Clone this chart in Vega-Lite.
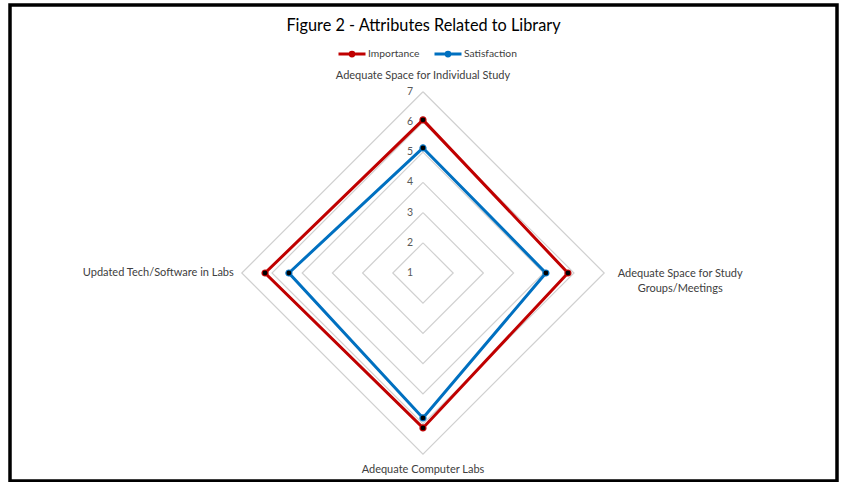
{
  "$schema": "https://vega.github.io/schema/vega-lite/v6.json",
  "width": 841,
  "height": 482,
  "autosize": {"type": "fit", "contains": "padding"},
  "padding": {"left": 10, "top": 5, "right": 4, "bottom": 1},
  "background": "white",
  "config": {
    "view": {"stroke": "black", "strokeWidth": 3.5},
    "font": "Lato",
    "text": {"font": "Lato", "color": "#404040"}
  },
  "title": {
    "text": "Figure 2 - Attributes Related to Library",
    "anchor": "middle",
    "frame": "group",
    "orient": "top",
    "offset": -42,
    "baseline": "alphabetic",
    "font": "Lato",
    "fontSize": 16.3,
    "fontWeight": "normal",
    "color": "#000000"
  },
  "datasets": {
    "series": [
      {"series": "Importance", "k": 1, "value": 6.07},
      {"series": "Importance", "k": 2, "value": 5.8},
      {"series": "Importance", "k": 3, "value": 6.13},
      {"series": "Importance", "k": 4, "value": 6.23},
      {"series": "Importance", "k": 5, "value": 6.07},
      {"series": "Satisfaction", "k": 1, "value": 5.14},
      {"series": "Satisfaction", "k": 2, "value": 5.07},
      {"series": "Satisfaction", "k": 3, "value": 5.8},
      {"series": "Satisfaction", "k": 4, "value": 5.44},
      {"series": "Satisfaction", "k": 5, "value": 5.14}
    ],
    "grid": [
      {"value": 2, "k": 1}, {"value": 2, "k": 2}, {"value": 2, "k": 3}, {"value": 2, "k": 4}, {"value": 2, "k": 5},
      {"value": 3, "k": 1}, {"value": 3, "k": 2}, {"value": 3, "k": 3}, {"value": 3, "k": 4}, {"value": 3, "k": 5},
      {"value": 4, "k": 1}, {"value": 4, "k": 2}, {"value": 4, "k": 3}, {"value": 4, "k": 4}, {"value": 4, "k": 5},
      {"value": 5, "k": 1}, {"value": 5, "k": 2}, {"value": 5, "k": 3}, {"value": 5, "k": 4}, {"value": 5, "k": 5},
      {"value": 6, "k": 1}, {"value": 6, "k": 2}, {"value": 6, "k": 3}, {"value": 6, "k": 4}, {"value": 6, "k": 5},
      {"value": 7, "k": 1}, {"value": 7, "k": 2}, {"value": 7, "k": 3}, {"value": 7, "k": 4}, {"value": 7, "k": 5}
    ],
    "ticks": [
      {"value": 1, "k": 1}, {"value": 2, "k": 1}, {"value": 3, "k": 1}, {"value": 4, "k": 1},
      {"value": 5, "k": 1}, {"value": 6, "k": 1}, {"value": 7, "k": 1}
    ],
    "cats": [
      {"k": 1, "value": 7, "label": "Adequate Space for Individual Study"},
      {"k": 2, "value": 7, "label": "Adequate Space for Study\nGroups/Meetings"},
      {"k": 3, "value": 7, "label": "Adequate Computer Labs"},
      {"k": 4, "value": 7, "label": "Updated Tech/Software in Labs"}
    ]
  },
  "layer": [
    {
      "data": {"name": "grid"},
      "transform": [
        {"calculate": "datum.value - 1", "as": "r"},
        {"calculate": "datum.k == 2 ? datum.r : (datum.k == 4 ? -datum.r : 0)", "as": "px"},
        {"calculate": "(datum.k == 1 || datum.k == 5) ? datum.r : (datum.k == 3 ? -datum.r : 0)", "as": "py"}
      ],
      "mark": {"type": "line", "color": "#D0D0D0", "strokeWidth": 1.2},
      "encoding": {
        "x": {"field": "px", "type": "quantitative", "axis": null, "scale": {"domain": [-13.675, 13.709], "nice": false, "zero": false}},
        "y": {"field": "py", "type": "quantitative", "axis": null, "scale": {"domain": [-6.887, 8.874], "nice": false, "zero": false}},
        "detail": {"field": "value", "type": "nominal"},
        "order": {"field": "k", "type": "quantitative"}
      }
    },
    {
      "data": {"name": "series"},
      "transform": [
        {"calculate": "datum.value - 1", "as": "r"},
        {"calculate": "datum.k == 2 ? datum.r : (datum.k == 4 ? -datum.r : 0)", "as": "px"},
        {"calculate": "(datum.k == 1 || datum.k == 5) ? datum.r : (datum.k == 3 ? -datum.r : 0)", "as": "py"}
      ],
      "mark": {"type": "line", "strokeWidth": 3, "strokeJoin": "miter"},
      "encoding": {
        "x": {"field": "px", "type": "quantitative", "axis": null, "scale": {"domain": [-13.675, 13.709], "nice": false, "zero": false}},
        "y": {"field": "py", "type": "quantitative", "axis": null, "scale": {"domain": [-6.887, 8.874], "nice": false, "zero": false}},
        "order": {"field": "k", "type": "quantitative"},
        "color": {
          "field": "series",
          "type": "nominal",
          "scale": {"domain": ["Importance", "Satisfaction"], "range": ["#C00000", "#0070C0"]},
          "legend": {
            "title": null,
            "orient": "none",
            "direction": "horizontal",
            "legendX": 327,
            "legendY": 34,
            "symbolType": "M-1,0L1,0M0.14,0A0.14,0.14 0 1,1 -0.14,0A0.14,0.14 0 1,1 0.14,0Z",
            "symbolSize": 729,
            "symbolStrokeWidth": 3,
            "symbolFillColor": "black",
            "labelFont": "Lato",
            "labelFontSize": 10.3,
            "labelColor": "#404040",
            "labelOffset": 1,
            "columnPadding": 8
          }
        }
      }
    },
    {
      "data": {"name": "series"},
      "transform": [
        {"filter": "datum.k < 5"},
        {"calculate": "datum.value - 1", "as": "r"},
        {"calculate": "datum.k == 2 ? datum.r : (datum.k == 4 ? -datum.r : 0)", "as": "px"},
        {"calculate": "(datum.k == 1 || datum.k == 5) ? datum.r : (datum.k == 3 ? -datum.r : 0)", "as": "py"}
      ],
      "mark": {"type": "point", "filled": false, "fill": "black", "fillOpacity": 1, "strokeWidth": 1.2, "size": 36, "opacity": 1},
      "encoding": {
        "x": {"field": "px", "type": "quantitative"},
        "y": {"field": "py", "type": "quantitative"},
        "color": {"field": "series", "type": "nominal"}
      }
    },
    {
      "data": {"name": "ticks"},
      "transform": [
        {"calculate": "datum.value - 1", "as": "py"},
        {"calculate": "0", "as": "px"}
      ],
      "mark": {"type": "text", "dx": -13, "align": "center", "baseline": "middle", "fontSize": 10.5, "color": "#595959"},
      "encoding": {
        "x": {"field": "px", "type": "quantitative"},
        "y": {"field": "py", "type": "quantitative"},
        "text": {"field": "value", "type": "nominal"}
      }
    },
    {
      "data": {"name": "cats"},
      "transform": [{"filter": "datum.k == 1"}, {"calculate": "0", "as": "px"}, {"calculate": "datum.value - 1", "as": "py"}],
      "mark": {"type": "text", "align": "center", "baseline": "alphabetic", "dy": -13, "fontSize": 11, "color": "#404040"},
      "encoding": {
        "x": {"field": "px", "type": "quantitative"},
        "y": {"field": "py", "type": "quantitative"},
        "text": {"field": "label", "type": "nominal"}
      }
    },
    {
      "data": {"name": "cats"},
      "transform": [{"filter": "datum.k == 2"}, {"calculate": "datum.value - 1", "as": "px"}, {"calculate": "0", "as": "py"}],
      "mark": {"type": "text", "align": "center", "baseline": "middle", "dx": 76, "dy": 1, "fontSize": 11, "lineHeight": 15, "lineBreak": "\n", "color": "#404040"},
      "encoding": {
        "x": {"field": "px", "type": "quantitative"},
        "y": {"field": "py", "type": "quantitative"},
        "text": {"field": "label", "type": "nominal"}
      }
    },
    {
      "data": {"name": "cats"},
      "transform": [{"filter": "datum.k == 3"}, {"calculate": "0", "as": "px"}, {"calculate": "1 - datum.value", "as": "py"}],
      "mark": {"type": "text", "align": "center", "baseline": "middle", "dy": 16, "fontSize": 11, "color": "#404040"},
      "encoding": {
        "x": {"field": "px", "type": "quantitative"},
        "y": {"field": "py", "type": "quantitative"},
        "text": {"field": "label", "type": "nominal"}
      }
    },
    {
      "data": {"name": "cats"},
      "transform": [{"filter": "datum.k == 4"}, {"calculate": "1 - datum.value", "as": "px"}, {"calculate": "0", "as": "py"}],
      "mark": {"type": "text", "align": "right", "baseline": "middle", "dx": -8, "fontSize": 11, "color": "#404040"},
      "encoding": {
        "x": {"field": "px", "type": "quantitative"},
        "y": {"field": "py", "type": "quantitative"},
        "text": {"field": "label", "type": "nominal"}
      }
    }
  ]
}
